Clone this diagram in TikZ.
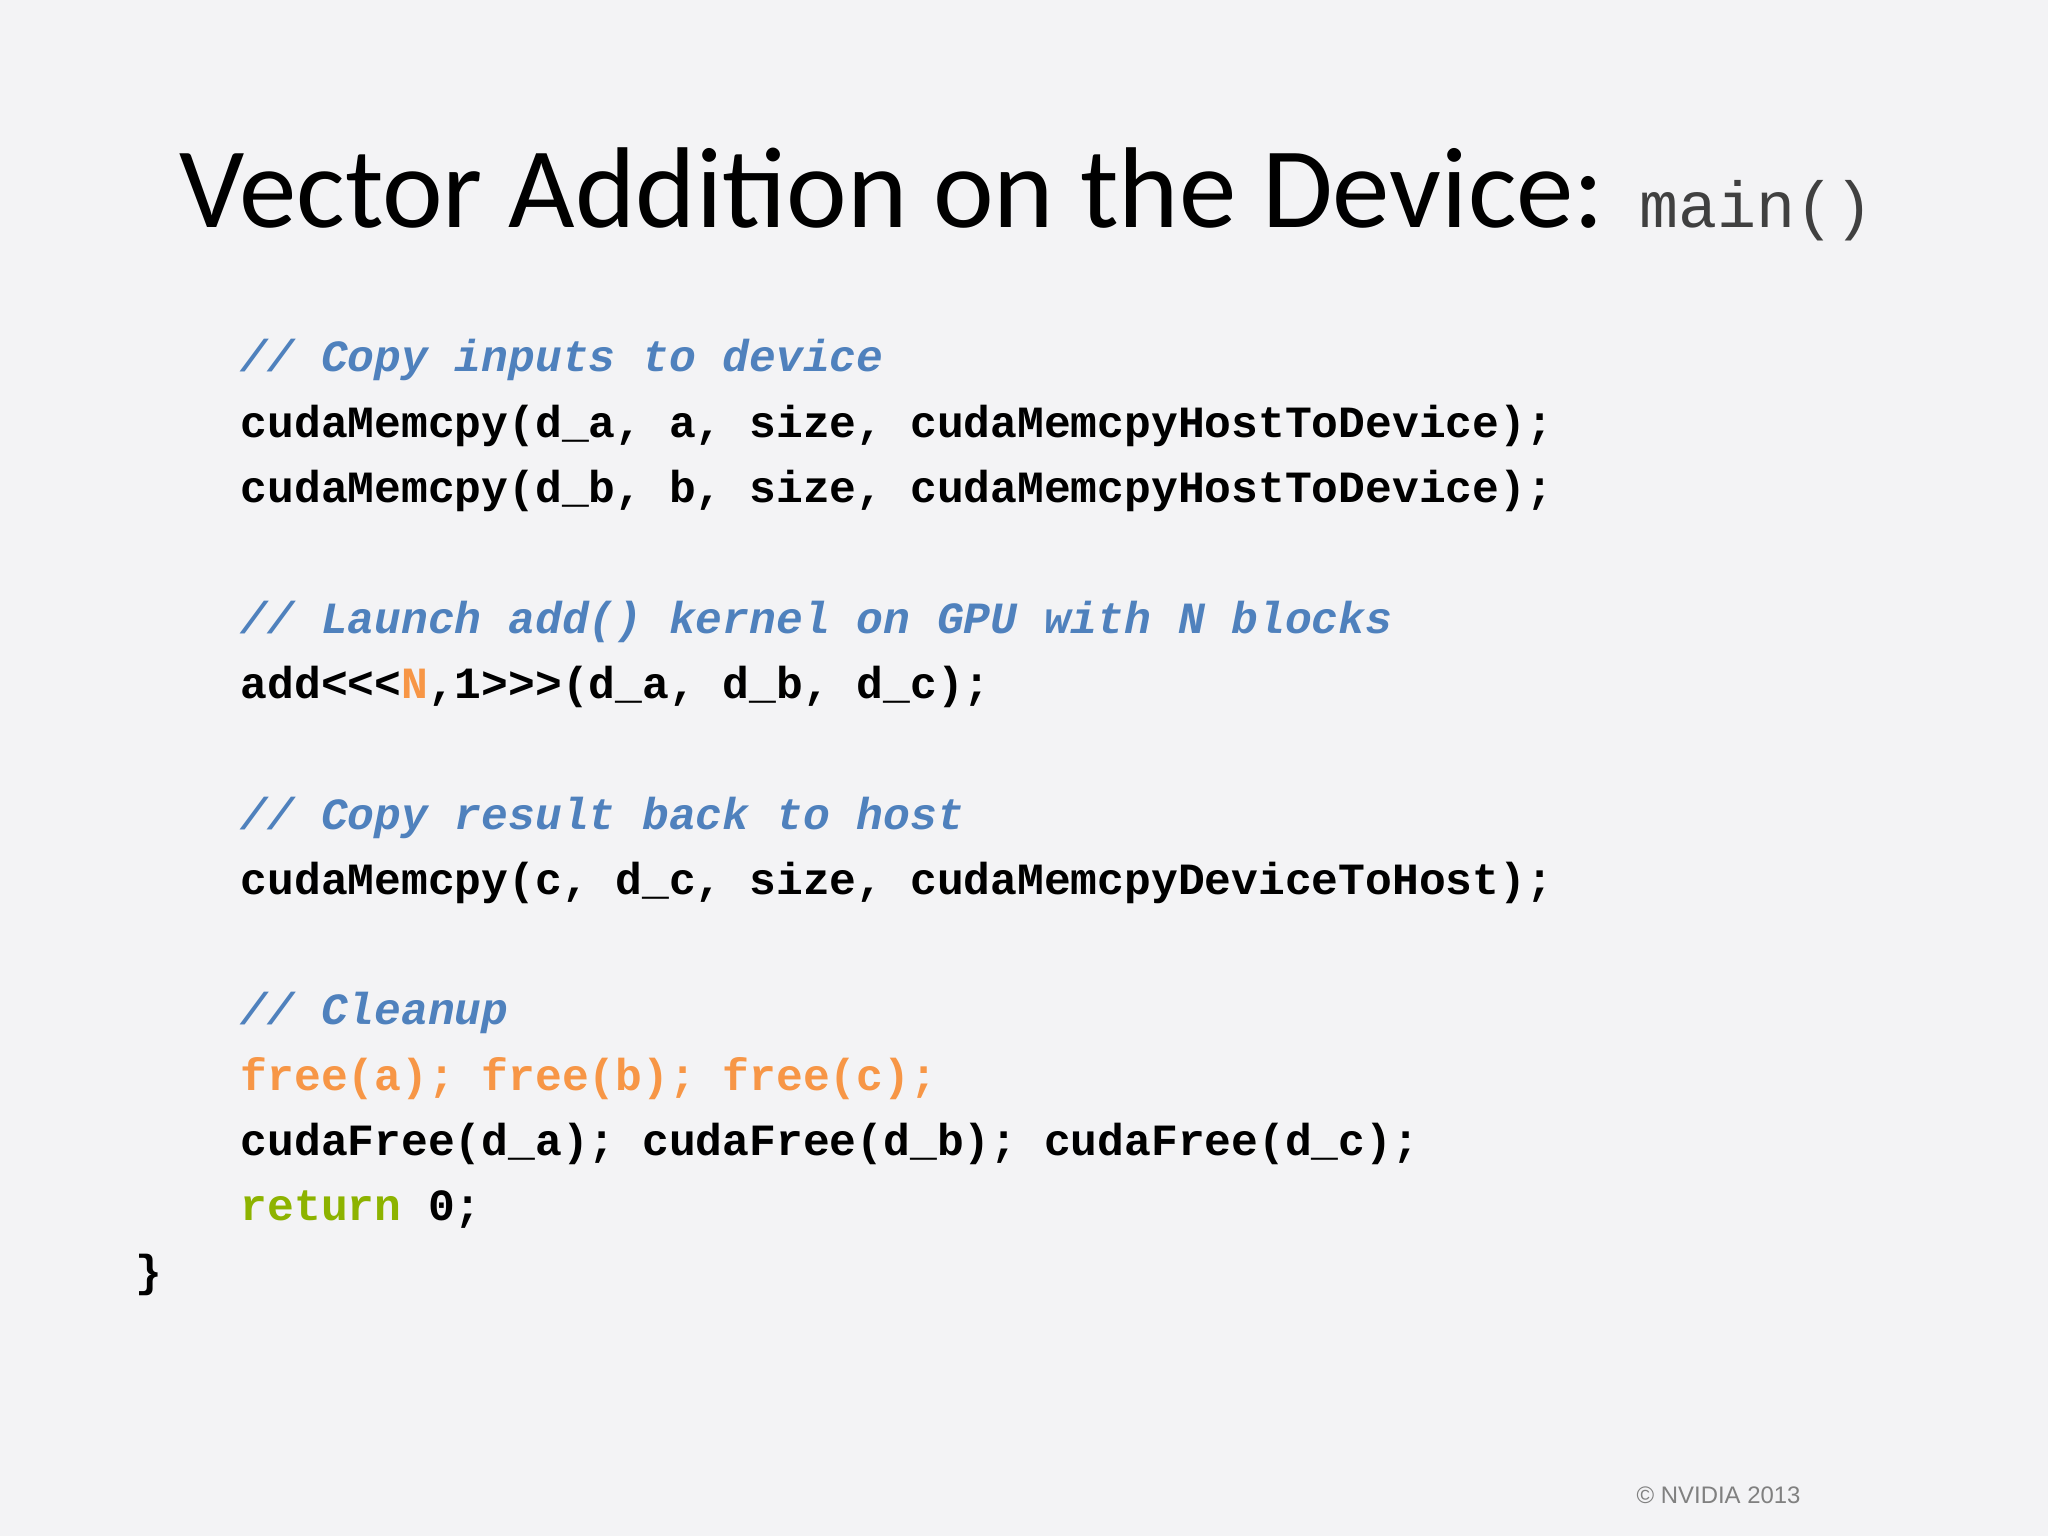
\documentclass[tikz,border=0pt]{standalone}
\usepackage{fontspec}
\setmainfont{Carlito}
\setmonofont{Liberation Mono}
\newfontfamily\copyfont{Liberation Sans}
\definecolor{bg}{HTML}{F3F3F5}
\definecolor{cblue}{HTML}{4F81BD}
\definecolor{corange}{HTML}{F79646}
\definecolor{cgreen}{HTML}{8DB300}
\tikzset{code/.style={anchor=base west,inner sep=0pt,font=\fontsize{12.7pt}{14pt}\ttfamily\bfseries},
cmt/.style={code,text=cblue,font=\fontsize{12.7pt}{14pt}\ttfamily\bfseries\itshape}}
\begin{document}
\begin{tikzpicture}
\fill[bg] (0,0) rectangle (20.48,15.36);
\useasboundingbox (0,0) rectangle (20.48,15.36);
\node[anchor=base west,inner sep=0pt,font=\fontsize{32.7pt}{36pt}\selectfont] (title) at (1.79,13.08) {Vector Addition on the Device: {\fontsize{18.5pt}{20pt}\ttfamily\color[HTML]{404040}main()}};
\def\X{2.40}
\node[cmt] (l1) at (\X,11.64) {// Copy inputs to device};
\node[code] (l2) at (\X,10.987) {cudaMemcpy(d\_a, a, size, cudaMemcpyHostToDevice);};
\node[code] (l3) at (\X,10.334) {cudaMemcpy(d\_b, b, size, cudaMemcpyHostToDevice);};
\node[cmt] (l4) at (\X,9.028) {// Launch add() kernel on GPU with N blocks};
\node[code] (l5) at (\X,8.375) {add<{}<{}<\textcolor{corange}{N},1>{}>{}>(d\_a, d\_b, d\_c);};
\node[cmt] (l6) at (\X,7.069) {// Copy result back to host};
\node[code] (l7) at (\X,6.416) {cudaMemcpy(c, d\_c, size, cudaMemcpyDeviceToHost);};
\node[cmt] (l8) at (\X,5.110) {// Cleanup};
\node[code,text=corange] (l9) at (\X,4.457) {free(a); free(b); free(c);};
\node[code] (l10) at (\X,3.804) {cudaFree(d\_a); cudaFree(d\_b); cudaFree(d\_c);};
\node[code] (l11) at (\X,3.151) {\textcolor{cgreen}{return} 0;};
\node[code] (l12) at (1.35,2.498) {\}};
\node[anchor=base west,inner sep=0pt,text=gray,font=\fontsize{6.8pt}{8pt}\copyfont] (cp) at (16.36,0.32) {© NVIDIA 2013};
\end{tikzpicture}
\end{document}
